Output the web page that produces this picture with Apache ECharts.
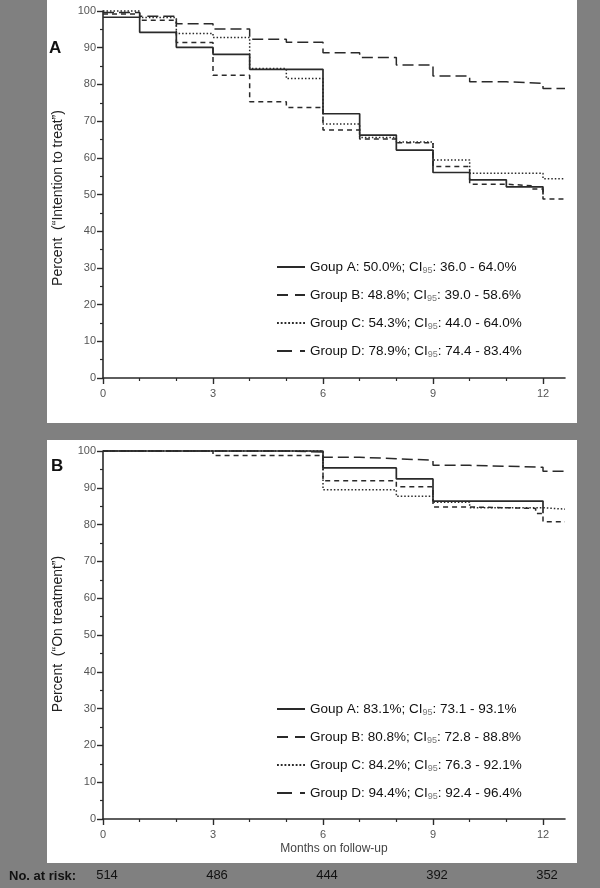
<!DOCTYPE html>
<html><head><meta charset="utf-8">
<script src="https://cdn.jsdelivr.net/npm/echarts@6/dist/echarts.min.js"></script>
<style>html,body{margin:0;padding:0;background:#808080;}#c{width:600px;height:888px;}</style>
</head><body><div id="c"></div>
<script>
// ---------- data ----------
const groupNames = ['Goup A', 'Group B', 'Group C', 'Group D'];
const ittEstimates = ['50.0%', '48.8%', '54.3%', '78.9%'];
const ittCI = ['36.0 - 64.0%', '39.0 - 58.6%', '44.0 - 64.0%', '74.4 - 83.4%'];
const otEstimates = ['83.1%', '80.8%', '84.2%', '94.4%'];
const otCI = ['73.1 - 93.1%', '72.8 - 88.8%', '76.3 - 92.1%', '92.4 - 96.4%'];
const monthTicks = [0, 3, 6, 9, 12];
const minorMonthTicks = [1, 2, 4, 5, 7, 8, 10, 11];
const atRisk = [514, 486, 444, 392, 352];

// Panel A (intention to treat): [month, percent] step points
const ittGroupA = [[0,98.3],[1,94.2],[2,90.1],[3,88.2],[4,84.1],[6,72.0],[7,66.2],[8,62.1],[9,56.0],[10,54.0],[11,52.1],[12,50.0]];
const ittGroupB = [[0,99.2],[1,97.5],[2,91.4],[3,82.5],[4,75.3],[5,73.7],[6,67.6],[7,65.1],[8,64.1],[9,57.6],[10,52.8],[11,52.4],[11.7,51.5],[12,48.8],[12.6,48.8]];
const ittGroupC = [[0,100],[1,98.2],[2,93.9],[3,92.8],[4,84.3],[5,81.6],[6,69.2],[7,65.5],[8,64.3],[9,59.4],[10,55.8],[12,54.3],[12.6,54.3]];
const ittGroupD = [[0,99.6],[1,98.6],[2,96.5],[3,95.1],[4,92.3],[5,91.5],[6,88.6],[7,87.3],[8,85.3],[9,82.3],[10,80.7],[11,80.3],[12,78.9],[12.6,78.9]];
// Panel B (on treatment)
const otGroupA = [[0,100],[6,95.4],[8,92.4],[9,86.4],[12,83.1]];
const otGroupB = [[0,100],[3,98.8],[6,91.9],[8,90.3],[9,84.8],[10,84.4],[11.8,83.0],[12,80.8],[12.6,80.8]];
const otGroupC = [[0,100],[6,89.5],[8,87.7],[9,86.1],[10,84.6],[12,84.2],[12.6,84.2]];
const otGroupD = [[0,100],[5,99.7],[6,98.3],[7,97.9],[8,97.5],[9,96.1],[10,95.6],[12,94.5],[12.6,94.5]];

// ---------- styles ----------
const FONT = 'Liberation Sans, Arial, sans-serif';
const LINE_COLOR = '#2a2a2a';
const dashStyles = ['solid', [5, 4], [1.5, 2], [11, 5]];
const lineWidths = [1.7, 1.5, 1.5, 1.5];
const legendIcons = [
  'path://M0,0H28V2H0Z',
  'path://M0,0H11V2H0Z M18,0H28V2H18Z',
  'path://M0,0H2V2H0Z M4,0H6V2H4Z M8,0H10V2H8Z M12,0H14V2H12Z M16,0H18V2H16Z M20,0H22V2H20Z M24,0H26V2H24Z M28,0H30V2H28Z',
  'path://M0,0H15V2H0Z M23,0H28V2H23Z'
];

const ittData = [ittGroupA, ittGroupB, ittGroupC, ittGroupD];
const otData = [otGroupA, otGroupB, otGroupC, otGroupD];
const ittNames = groupNames.map((g, i) => `${g}: ${ittEstimates[i]}; CI95: ${ittCI[i]}`);
const otNames = groupNames.map((g, i) => `${g}: ${otEstimates[i]}; CI95: ${otCI[i]}`);

const axisColor = '#2a2a2a';
const labelColor = '#555';

function mainX(gridIndex, withName) {
  return {
    type: 'value', gridIndex, min: 0, max: 12.6, position: 'bottom',
    axisLine: { show: true, onZero: false, lineStyle: { color: axisColor, width: 1.6 } },
    axisTick: { show: true, customValues: monthTicks, length: 6, lineStyle: { color: axisColor, width: 1.4 } },
    axisLabel: { customValues: monthTicks, margin: 10, fontSize: 11, color: labelColor, fontFamily: FONT },
    splitLine: { show: false },
    name: withName ? 'Months on follow-up' : '',
    nameLocation: 'middle', nameGap: 24,
    nameTextStyle: { fontSize: 12, color: '#444', fontFamily: FONT }
  };
}
function minorX(gridIndex) {
  return {
    type: 'value', gridIndex, min: 0, max: 12.6, position: 'bottom',
    axisLine: { show: false },
    axisTick: { show: true, customValues: minorMonthTicks, length: 3, lineStyle: { color: axisColor, width: 1.2 } },
    axisLabel: { show: false },
    splitLine: { show: false }
  };
}
function mainY(gridIndex) {
  return {
    type: 'value', gridIndex, min: 0, max: 100, interval: 10, position: 'left',
    axisLine: { show: true, onZero: false, lineStyle: { color: axisColor, width: 1.6 } },
    axisTick: { show: true, length: 6, lineStyle: { color: axisColor, width: 1.4 } },
    minorTick: { show: true, splitNumber: 2, length: 3, lineStyle: { color: axisColor, width: 1.2 } },
    axisLabel: { margin: 7, fontSize: 11, color: labelColor, fontFamily: FONT },
    splitLine: { show: false }, minorSplitLine: { show: false }
  };
}

const series = [];
[ittData, otData].forEach((panel, p) => {
  const names = p === 0 ? ittNames : otNames;
  [3, 2, 1, 0].forEach(i => {
    series.push({
      type: 'line', name: names[i], step: 'end', symbol: 'none', clip: false, silent: true,
      xAxisIndex: p === 0 ? 0 : 2, yAxisIndex: p,
      data: panel[i],
      color: LINE_COLOR,
      lineStyle: { color: LINE_COLOR, width: lineWidths[i], type: dashStyles[i] },
      z: 3 + (3 - i)
    });
  });
});

function legendFormatter(name) {
  const idx = name.indexOf('CI95');
  const pre = name.slice(0, idx) + 'CI';
  const post = name.slice(idx + 4);
  return `{a|${pre}}{s|95}{a|${post}}`;
}
function makeLegend(names, top) {
  return {
    data: names.map((n, i) => ({ name: n, icon: legendIcons[i] })),
    orient: 'vertical', left: 272, top, itemWidth: 28, itemHeight: 2, itemGap: 13,
    selectedMode: false,
    formatter: legendFormatter,
    textStyle: {
      fontFamily: FONT,
      rich: {
        a: { fontSize: 13.5, color: '#111', lineHeight: 16, fontFamily: FONT },
        s: { fontSize: 9, color: '#777', lineHeight: 8, verticalAlign: 'bottom', fontFamily: FONT }
      }
    }
  };
}

const option = {
  animation: false,
  backgroundColor: '#808080',
  textStyle: { fontFamily: FONT },
  grid: [
    { left: 103, width: 462, top: 11, height: 367 },
    { left: 103, width: 462, top: 451, height: 368 }
  ],
  xAxis: [
    mainX(0, false), minorX(0), mainX(1, true), minorX(1),
    {
      type: 'value', gridIndex: 1, min: 0, max: 12.6, position: 'bottom',
      axisLine: { show: false }, axisTick: { show: false }, splitLine: { show: false },
      axisLabel: {
        customValues: monthTicks, margin: 50, fontSize: 13, color: '#111', fontFamily: FONT,
        padding: [0, 0, 0, 8],
        formatter: v => String(atRisk[monthTicks.indexOf(v)])
      }
    }
  ],
  yAxis: [mainY(0), mainY(1)],
  legend: [makeLegend(ittNames, 255), makeLegend(otNames, 697)],
  graphic: [
    { type: 'rect', z: -10, shape: { x: 47, y: 0, width: 530, height: 423 }, style: { fill: '#fff' }, silent: true },
    { type: 'rect', z: -10, shape: { x: 47, y: 440, width: 530, height: 423 }, style: { fill: '#fff' }, silent: true },
    { type: 'text', x: 49, y: 48, style: { text: 'A', fontSize: 17, fontWeight: 'bold', fill: '#111', fontFamily: FONT, verticalAlign: 'middle' } },
    { type: 'text', x: 51, y: 466, style: { text: 'B', fontSize: 17, fontWeight: 'bold', fill: '#111', fontFamily: FONT, verticalAlign: 'middle' } },
    { type: 'text', x: 58, y: 198, rotation: Math.PI / 2, style: { text: 'Percent  (\u201cIntention to treat\u201d)', fontSize: 14, fill: '#222', fontFamily: FONT, align: 'center', verticalAlign: 'middle' } },
    { type: 'text', x: 58, y: 634, rotation: Math.PI / 2, style: { text: 'Percent  (\u201cOn treatment\u201d)', fontSize: 14, fill: '#222', fontFamily: FONT, align: 'center', verticalAlign: 'middle' } },
    { type: 'text', x: 9, y: 876, style: { text: 'No. at risk:', fontSize: 13, fontWeight: 'bold', fill: '#111', fontFamily: FONT, verticalAlign: 'middle' } }
  ],
  series
};

const chart = echarts.init(document.getElementById('c'), null, { renderer: 'canvas' });
chart.setOption(option);
</script>
</body></html>
